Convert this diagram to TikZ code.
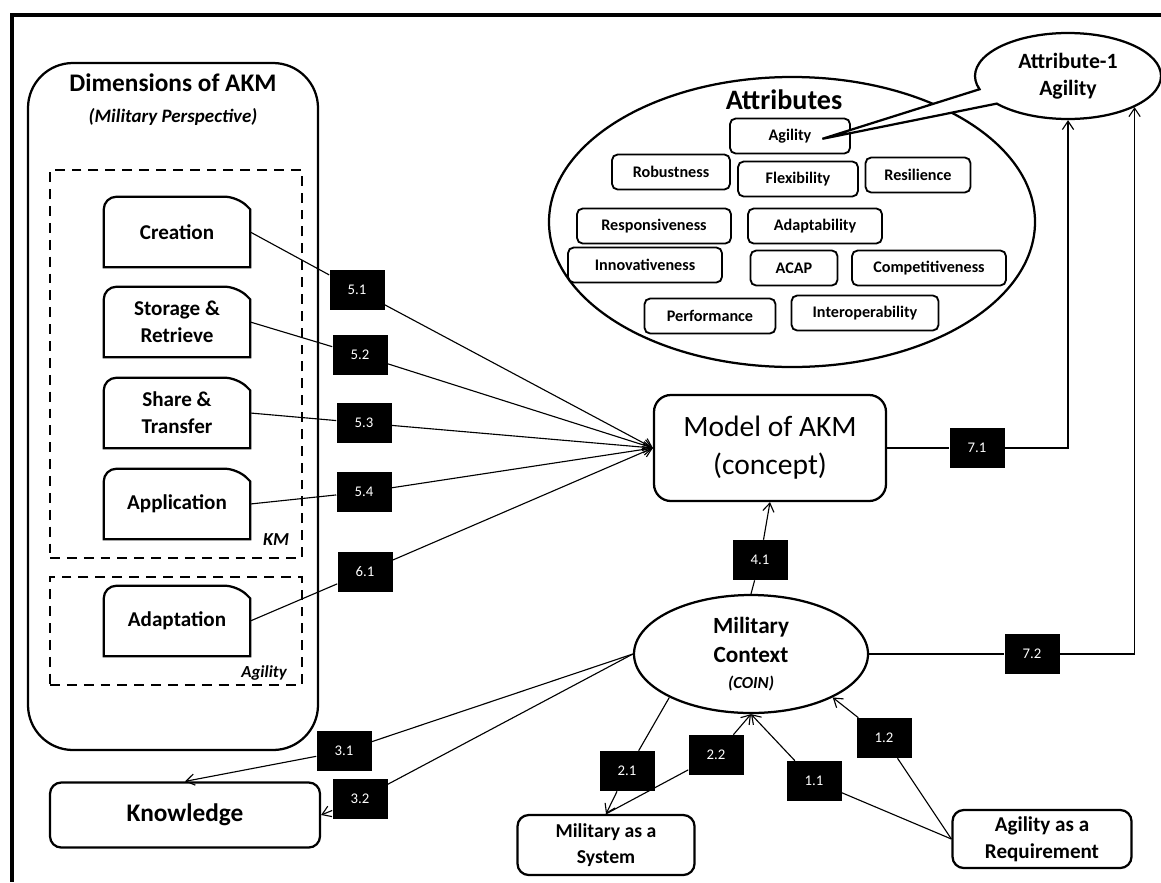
\documentclass[tikz,border=0pt]{standalone}
\usepackage{fontspec}
\setmainfont{Carlito}
\usetikzlibrary{arrows.meta,shapes.geometric,shapes.callouts}

\newcommand{\pxu}{0.025cm}
\newcommand{\snipframe}[1]{%
  \draw[boxline, rounded corners=9pt] (#1.south west) -- (#1.north west)
    -- ([xshift=-9pt]#1.north east) [sharp corners] -- ([yshift=-9pt]#1.north east)
    -- (#1.south east) -- cycle;}

\tikzset{
  boxline/.style={line width=1.6pt},
  dimbox/.style={minimum width=146*\pxu, minimum height=70*\pxu, align=center,
    inner sep=0pt, font=\bfseries\fontsize{15}{19}\selectfont},
  zone/.style={draw, line width=1.6pt, dash pattern=on 7pt off 5pt, minimum width=252*\pxu},
  attrbox/.style={draw, line width=1.3pt, rounded corners=4pt, minimum height=35*\pxu,
    inner sep=0pt, font=\bfseries\fontsize{11.5}{13}\selectfont},
  roundbox/.style={draw, boxline, rounded corners=8pt, align=center, inner sep=0pt},
  lbl/.style={fill=black, text=white, minimum width=55*\pxu, minimum height=40*\pxu,
    inner sep=0pt, font=\fontsize{10.5}{12}\selectfont},
  conn/.style={line width=0.8pt},
  arr/.style={conn, -{Straight Barb[length=6pt,width=8pt]}}
}

\begin{document}
\begin{tikzpicture}[x=0.025cm, y=-0.025cm]
\useasboundingbox (0,0) rectangle (1161,882);
\draw[line width=2.2pt] (1161,15) -- (12,15) -- (12,882);

% dimensions of AKM
\node[draw, boxline, rounded corners=32pt, minimum width=290*\pxu, minimum height=687*\pxu] (dims) at (173,406.5) {};
\node[font=\bfseries\fontsize{18}{20}\selectfont] (dimtitle) at (173,83) {Dimensions of AKM};
\node[font=\bfseries\itshape\fontsize{13.5}{16}\selectfont] (dimsub) at (173,117) {(Military Perspective)};
\node[zone, minimum height=388*\pxu] (kmzone) at (176,364) {};
\node[zone, minimum height=108*\pxu] (agzone) at (176,631) {};
\node[font=\bfseries\itshape\fontsize{13}{15}\selectfont] (kmtag) at (276,540) {KM};
\node[font=\bfseries\itshape\fontsize{12}{14}\selectfont] (agtag) at (264,673) {Agility};

\node[dimbox] (creation) at (177,232) {Creation};
\node[dimbox] (storage) at (177,322) {Storage \&\\Retrieve};
\node[dimbox] (share) at (177,413) {Share \&\\Transfer};
\node[dimbox] (application) at (177,504) {Application};
\node[dimbox] (adaptation) at (177,621) {Adaptation};
\foreach \n in {creation,storage,share,application,adaptation} \snipframe{\n};

% attributes
\node[draw, ellipse, boxline, minimum width=486*\pxu, minimum height=290*\pxu] (attrs) at (792,222) {};
\node[font=\bfseries\fontsize{20}{24}\selectfont] (attrtitle) at (784,100) {Attributes};
\foreach \n/\x/\y/\w/\t in {agil/790/136/120/Agility, robust/671/172/118/Robustness,
    flex/798/179/120/Flexibility, resil/918/175/105/Resilience,
    respons/654/226/154/Responsiveness, adapt/815/226/134/Adaptability,
    innov/645/265/154/Innovativeness, acap/794/268/87/ACAP,
    compet/929/268/154/Competitiveness, perf/710/316/131/Performance,
    interop/865/313/147/Interoperability}
  \node[attrbox, minimum width=\w*\pxu] (\n) at (\x,\y) {\t};

\coordinate (agiltip) at ([xshift=23pt,yshift=-2pt]agil.center);
\node[ellipse callout, draw, boxline, fill=white, callout absolute pointer={(agiltip)},
  callout pointer arc=22, minimum width=186*\pxu, minimum height=86*\pxu, align=center,
  inner sep=0pt, font=\bfseries\fontsize{15.5}{19}\selectfont] (attr1) at (1068,76) {Attribute-1\\Agility};

% model and context
\node[roundbox, rounded corners=12pt, minimum width=232*\pxu, minimum height=106*\pxu,
  font=\fontsize{21}{27}\selectfont] (model) at (770,448) {Model of AKM\\(concept)};
\node[draw, ellipse, boxline, minimum width=234*\pxu, minimum height=118*\pxu, align=center,
  inner sep=0pt, font=\bfseries\fontsize{16.5}{21}\selectfont] (context) at (751,654)
  {Military\\Context\\[-3pt]{\itshape\fontsize{12}{14}\selectfont (COIN)}};

\node[roundbox, minimum width=270*\pxu, minimum height=65*\pxu,
  font=\bfseries\fontsize{18}{20}\selectfont] (knowledge) at (185,815) {Knowledge};
\node[roundbox, minimum width=177*\pxu, minimum height=60*\pxu,
  font=\bfseries\fontsize{14}{19}\selectfont] (system) at (606,845) {Military as a\\System};
\node[roundbox, minimum width=179*\pxu, minimum height=58*\pxu,
  font=\bfseries\fontsize{15}{19}\selectfont] (req) at (1042,839) {Agility as a\\Requirement};

% link labels
\foreach \n/\x/\y/\t in {l51/357/290/5.1, l52/360/355/5.2, l53/364/423/5.3, l54/364/492/5.4,
    l61/365/572/6.1, l71/977/448/7.1, l72/1032/654/7.2, l41/760/560/4.1,
    l31/344/751/3.1, l32/360/799/3.2, l21/627/771/2.1, l22/716/755/2.2,
    l11/814/781/1.1, l12/884/738/1.2}
  \node[lbl] (\n) at (\x,\y) {\t};

% connectors
\draw[arr] (creation.east) -- (l51) -- (model.west);
\draw[arr] (storage.east) -- (l52) -- (model.west);
\draw[arr] (share.east) -- (l53) -- (model.west);
\draw[arr] (application.east) -- (l54) -- (model.west);
\draw[arr] (adaptation.east) -- (l61) -- (model.west);
\draw[arr] (model.east) -- (l71) -| (attr1.south);
\draw[arr] (context.east) -- (l72) -| (attr1.south east);
\draw[arr] (context.north) -- (l41) -- (model.south);
\draw[arr] (context.west) -- (l31) -- (knowledge.north);
\draw[arr] (context.west) -- (l32) -- (knowledge.east);
\draw[arr] (context.208) -- (l21) -- (system.north);
\draw[arr] (system.north) -- (l22) -- (context.south);
\draw[arr] (req.west) -- (l11) -- (context.south);
\draw[arr] (req.west) -- (l12) -- (context.332);
\end{tikzpicture}
\end{document}
